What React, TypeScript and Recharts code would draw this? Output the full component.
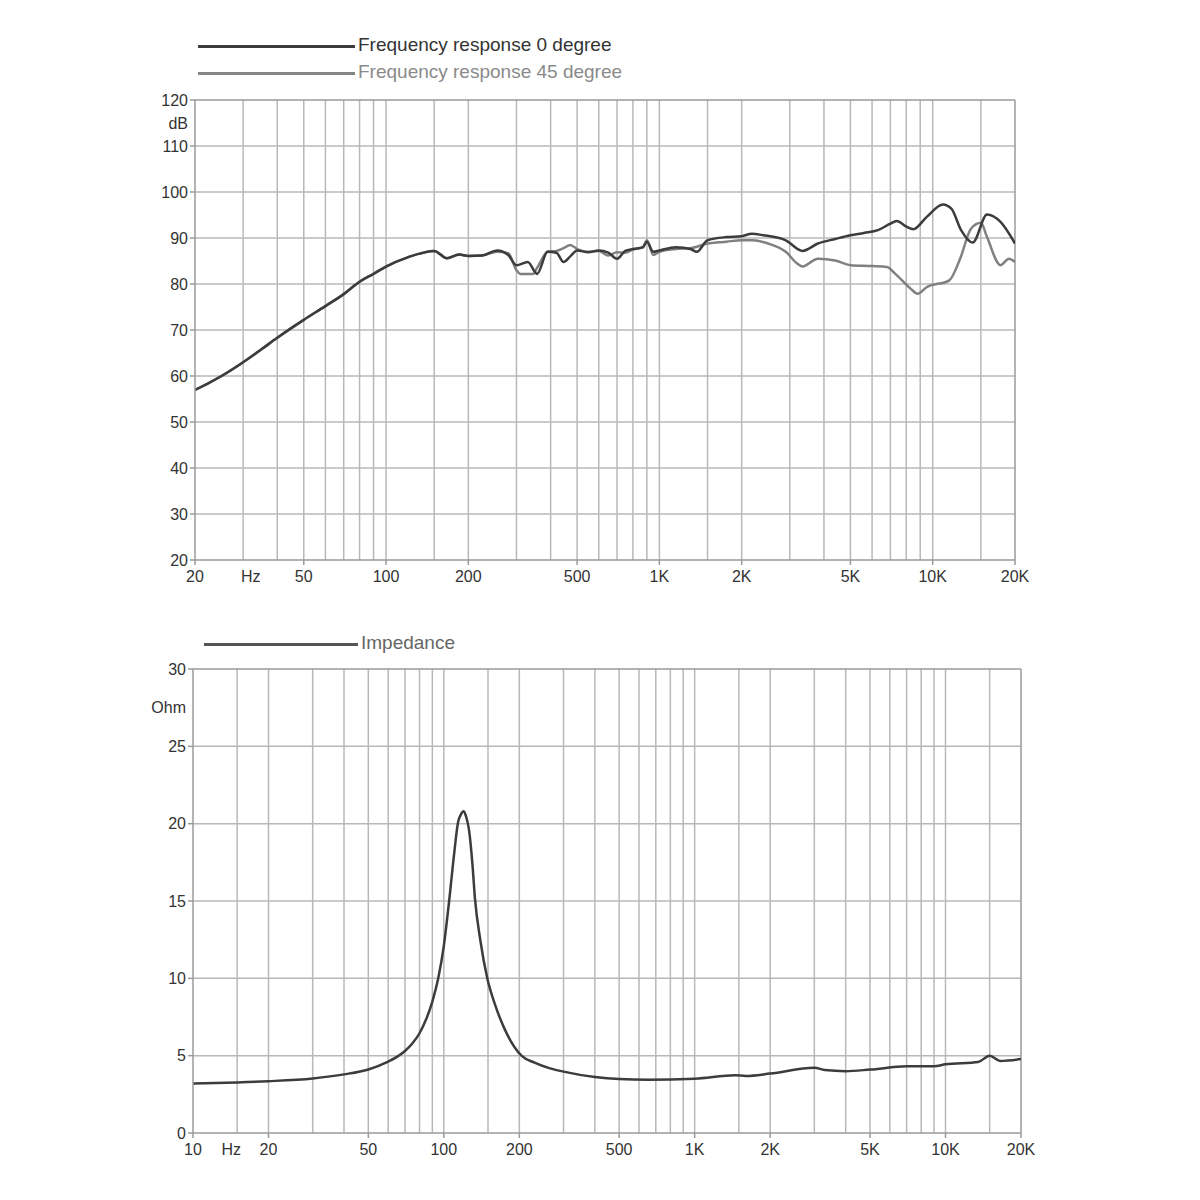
import { LineChart, Line, XAxis, YAxis, ReferenceLine } from "recharts";

const FONT = '"Liberation Sans", Arial, sans-serif';

// frequency response, 0 degree
const FR0_FREQ = [
  20, 22, 25, 30, 35, 40, 45, 50, 60, 70, 80, 90, 100, 120, 150, 167, 185, 200, 225, 255, 280, 300,
  330, 357, 390, 420, 446, 472, 500, 550, 600, 650, 700, 750, 800, 870, 900, 950, 1000, 1150, 1300,
  1370, 1500, 1760, 2000, 2180, 2400, 2900, 3340, 3800, 4400, 5000, 5600, 6300, 7000, 7380, 8000,
  8490, 9510, 10900, 11700, 12700, 14000, 15800, 17700, 20000,
];
const FR0_DB = [
  57, 58.2, 60, 63, 65.8, 68.3, 70.4, 72.2, 75.2, 77.8, 80.5, 82.2, 83.8, 85.8, 87.2, 85.6, 86.4,
  86.1, 86.2, 87.3, 86.3, 84.1, 84.8, 82.2, 87, 86.8, 84.8, 86, 87.3, 86.9, 87.3, 86.8, 85.5, 87.2,
  87.6, 88, 89.2, 87, 87.3, 88, 87.6, 87, 89.5, 90.2, 90.4, 90.9, 90.6, 89.5, 87.2, 88.8, 89.8, 90.6,
  91.1, 91.7, 93.1, 93.7, 92.5, 91.9, 94.6, 97.3, 96.4, 91.7, 89, 95.1, 93.5, 88.8,
];

// frequency response, 45 degree
const FR45_FREQ = [
  20, 22, 25, 30, 35, 40, 45, 50, 60, 70, 80, 90, 100, 120, 150, 167, 185, 200, 225, 255, 280, 300,
  310, 345, 357, 390, 420, 446, 472, 500, 550, 600, 650, 700, 750, 800, 870, 900, 950, 1000, 1150,
  1300, 1500, 1760, 2000, 2200, 2500, 2900, 3200, 3340, 3800, 4400, 5000, 6000, 6800, 7300, 8300,
  8800, 9500, 11500, 12600, 13800, 15000, 15800, 17700, 19000, 20000,
];
const FR45_DB = [
  57, 58.2, 60, 63, 65.8, 68.3, 70.4, 72.2, 75.2, 77.8, 80.5, 82.2, 83.8, 85.8, 87.2, 85.6, 86.4,
  86.1, 86.2, 87, 86.7, 83, 82.2, 82.2, 83.5, 87, 87.2, 87.8, 88.5, 87.6, 87, 87.2, 86.2, 86.9, 86.8,
  87.5, 87.9, 89.5, 86.3, 87, 87.6, 87.8, 88.8, 89.2, 89.5, 89.5, 88.8, 87, 84.4, 83.8, 85.5, 85.1,
  84.1, 83.9, 83.7, 82.2, 79, 77.9, 79.3, 80.8, 85.5, 92, 93.3, 90.2, 84.1, 85.5, 84.8,
];

// impedance
const IMP_FREQ = [
  10, 15, 20, 30, 40, 50, 60, 65, 70, 75, 80, 85, 90, 95, 100, 105, 110, 114, 117, 120, 123, 126,
  130, 133, 140, 149, 160, 175, 204, 230, 265, 300, 400, 500, 650, 1000, 1450, 1600, 2000, 3000,
  3300, 4000, 5000, 7000, 9000, 10000, 13500, 15000, 16500, 20000,
];
const IMP_OHM = [
  3.2, 3.27, 3.35, 3.53, 3.79, 4.11, 4.62, 4.92, 5.3, 5.8, 6.45, 7.35, 8.5, 10, 12.1, 15, 18.1, 20.1,
  20.6, 20.8, 20.4, 19.6, 17.4, 15.2, 12.4, 10, 8.3, 6.7, 5, 4.55, 4.18, 3.97, 3.62, 3.49, 3.45, 3.51,
  3.73, 3.69, 3.84, 4.22, 4.07, 4, 4.1, 4.31, 4.31, 4.44, 4.59, 5, 4.66, 4.78,
];

// axis ticks (unit labels sit on their own tick value)
const FR_X_TICKS = [20, 32, 50, 100, 200, 500, 1000, 2000, 5000, 10000, 20000];
const FR_Y_TICKS = [20, 30, 40, 50, 60, 70, 80, 90, 100, 110, 115, 120];
const IMP_X_TICKS = [10, 14.2, 20, 50, 100, 200, 500, 1000, 2000, 5000, 10000, 20000];
const IMP_Y_TICKS = [0, 5, 10, 15, 20, 25, 27.5, 30];

const FR_X_GRID = [
  30, 40, 50, 60, 70, 80, 90, 100, 150, 200, 300, 400, 500, 600, 700, 800, 900, 1000, 1500, 2000,
  3000, 4000, 5000, 6000, 7000, 8000, 9000, 10000, 15000,
];
const FR_Y_GRID = [30, 40, 50, 60, 70, 80, 90, 100, 110];
const IMP_X_GRID = [15, 20, ...FR_X_GRID].filter((v, i, a) => a.indexOf(v) === i);
const IMP_Y_GRID = [5, 10, 15, 20, 25];

const fr0 = FR0_FREQ.map((f, i) => ({ f, v: FR0_DB[i] }));
const fr45 = FR45_FREQ.map((f, i) => ({ f, v: FR45_DB[i] }));
const imp = IMP_FREQ.map((f, i) => ({ f, v: IMP_OHM[i] }));

const GRID = "#b8b8b8";
const FRAME = "#9a9a9a";
const TEXT = "#333";

function hzLabel(v: number, unitAt: number) {
  if (v === unitAt) return "Hz";
  return v >= 1000 ? `${v / 1000}K` : `${v}`;
}

function XTick(props: any) {
  const { x, y, payload, unitAt } = props;
  const isUnit = payload.value === unitAt;
  return (
    <g>
      {!isUnit && <line x1={x} x2={x} y1={y - 11} y2={y - 6} stroke={FRAME} strokeWidth={1.5} />}
      <text x={x} y={y} dy="0.71em" textAnchor="middle" fill={TEXT} fontSize={16} fontFamily={FONT}>
        {hzLabel(payload.value, unitAt)}
      </text>
    </g>
  );
}

function YTick(props: any) {
  const { x, y, payload, unitAt, unit } = props;
  const isUnit = payload.value === unitAt;
  return (
    <g>
      {!isUnit && <line x1={x + 2} x2={x + 7} y1={y} y2={y} stroke={FRAME} strokeWidth={1.5} />}
      <text x={x} y={y} dy="0.355em" textAnchor="end" fill={TEXT} fontSize={16} fontFamily={FONT}>
        {isUnit ? unit : payload.value}
      </text>
    </g>
  );
}

function LegendRow({ left, top, width, color, textColor, label }: any) {
  return (
    <>
      <div
        style={{ position: "absolute", left, top: top - 1, width, height: 2.5, background: color }}
      />
      <div
        style={{
          position: "absolute",
          left: left + width + 3,
          top: top - 11,
          lineHeight: "20px",
          fontSize: 19,
          fontFamily: FONT,
          color: textColor,
          whiteSpace: "nowrap",
        }}
      >
        {label}
      </div>
    </>
  );
}

export default function App() {
  return (
    <div style={{ position: "absolute", left: 0, top: 0, width: 1200, height: 1200, background: "#fff" }}>
      <LegendRow left={198} top={46} width={157} color="#3c3c3c" textColor="#333" label="Frequency response 0 degree" />
      <LegendRow left={198} top={73} width={157} color="#858585" textColor="#8a8a8a" label="Frequency response 45 degree" />
      <LegendRow left={204} top={644} width={154} color="#555" textColor="#666" label="Impedance" />

      <div style={{ position: "absolute", left: 0, top: 0 }}>
        <LineChart width={1200} height={600} margin={{ top: 100, right: 185, bottom: 10, left: 0 }}>
          <XAxis
            type="number"
            dataKey="f"
            scale="log"
            domain={[20, 20000]}
            allowDataOverflow
            ticks={FR_X_TICKS}
            interval={0}
            height={30}
            tickSize={5}
            tickMargin={6}
            tickLine={false}
            axisLine={{ stroke: FRAME, strokeWidth: 1.5 }}
            tick={<XTick unitAt={32} />}
          />
          <YAxis
            type="number"
            domain={[20, 120]}
            ticks={FR_Y_TICKS}
            interval={0}
            width={195}
            tickSize={5}
            tickMargin={2}
            tickLine={false}
            axisLine={{ stroke: FRAME, strokeWidth: 1.5 }}
            tick={<YTick unitAt={115} unit="dB" />}
          />
          {FR_X_GRID.map((v) => (
            <ReferenceLine key={`x${v}`} x={v} stroke={GRID} strokeWidth={1.5} />
          ))}
          {FR_Y_GRID.map((v) => (
            <ReferenceLine key={`y${v}`} y={v} stroke={GRID} strokeWidth={1.5} />
          ))}
          <ReferenceLine x={20000} stroke={FRAME} strokeWidth={1.5} />
          <ReferenceLine y={120} stroke={FRAME} strokeWidth={1.5} />
          <Line
            data={fr45}
            dataKey="v"
            type="monotone"
            stroke="#808080"
            strokeWidth={2.5}
            dot={false}
            isAnimationActive={false}
          />
          <Line
            data={fr0}
            dataKey="v"
            type="monotone"
            stroke="#3c3c3c"
            strokeWidth={2.5}
            dot={false}
            isAnimationActive={false}
          />
        </LineChart>
      </div>

      <div style={{ position: "absolute", left: 0, top: 600 }}>
        <LineChart width={1200} height={600} margin={{ top: 69, right: 179, bottom: 37, left: 0 }}>
          <XAxis
            type="number"
            dataKey="f"
            scale="log"
            domain={[10, 20000]}
            allowDataOverflow
            ticks={IMP_X_TICKS}
            interval={0}
            height={30}
            tickSize={5}
            tickMargin={6}
            tickLine={false}
            axisLine={{ stroke: FRAME, strokeWidth: 1.5 }}
            tick={<XTick unitAt={14.2} />}
          />
          <YAxis
            type="number"
            domain={[0, 30]}
            ticks={IMP_Y_TICKS}
            interval={0}
            width={193}
            tickSize={5}
            tickMargin={2}
            tickLine={false}
            axisLine={{ stroke: FRAME, strokeWidth: 1.5 }}
            tick={<YTick unitAt={27.5} unit="Ohm" />}
          />
          {IMP_X_GRID.map((v) => (
            <ReferenceLine key={`x${v}`} x={v} stroke={GRID} strokeWidth={1.5} />
          ))}
          {IMP_Y_GRID.map((v) => (
            <ReferenceLine key={`y${v}`} y={v} stroke={GRID} strokeWidth={1.5} />
          ))}
          <ReferenceLine x={20000} stroke={FRAME} strokeWidth={1.5} />
          <ReferenceLine y={30} stroke={FRAME} strokeWidth={1.5} />
          <Line
            data={imp}
            dataKey="v"
            type="monotone"
            stroke="#3c3c3c"
            strokeWidth={2.5}
            dot={false}
            isAnimationActive={false}
          />
        </LineChart>
      </div>
    </div>
  );
}
